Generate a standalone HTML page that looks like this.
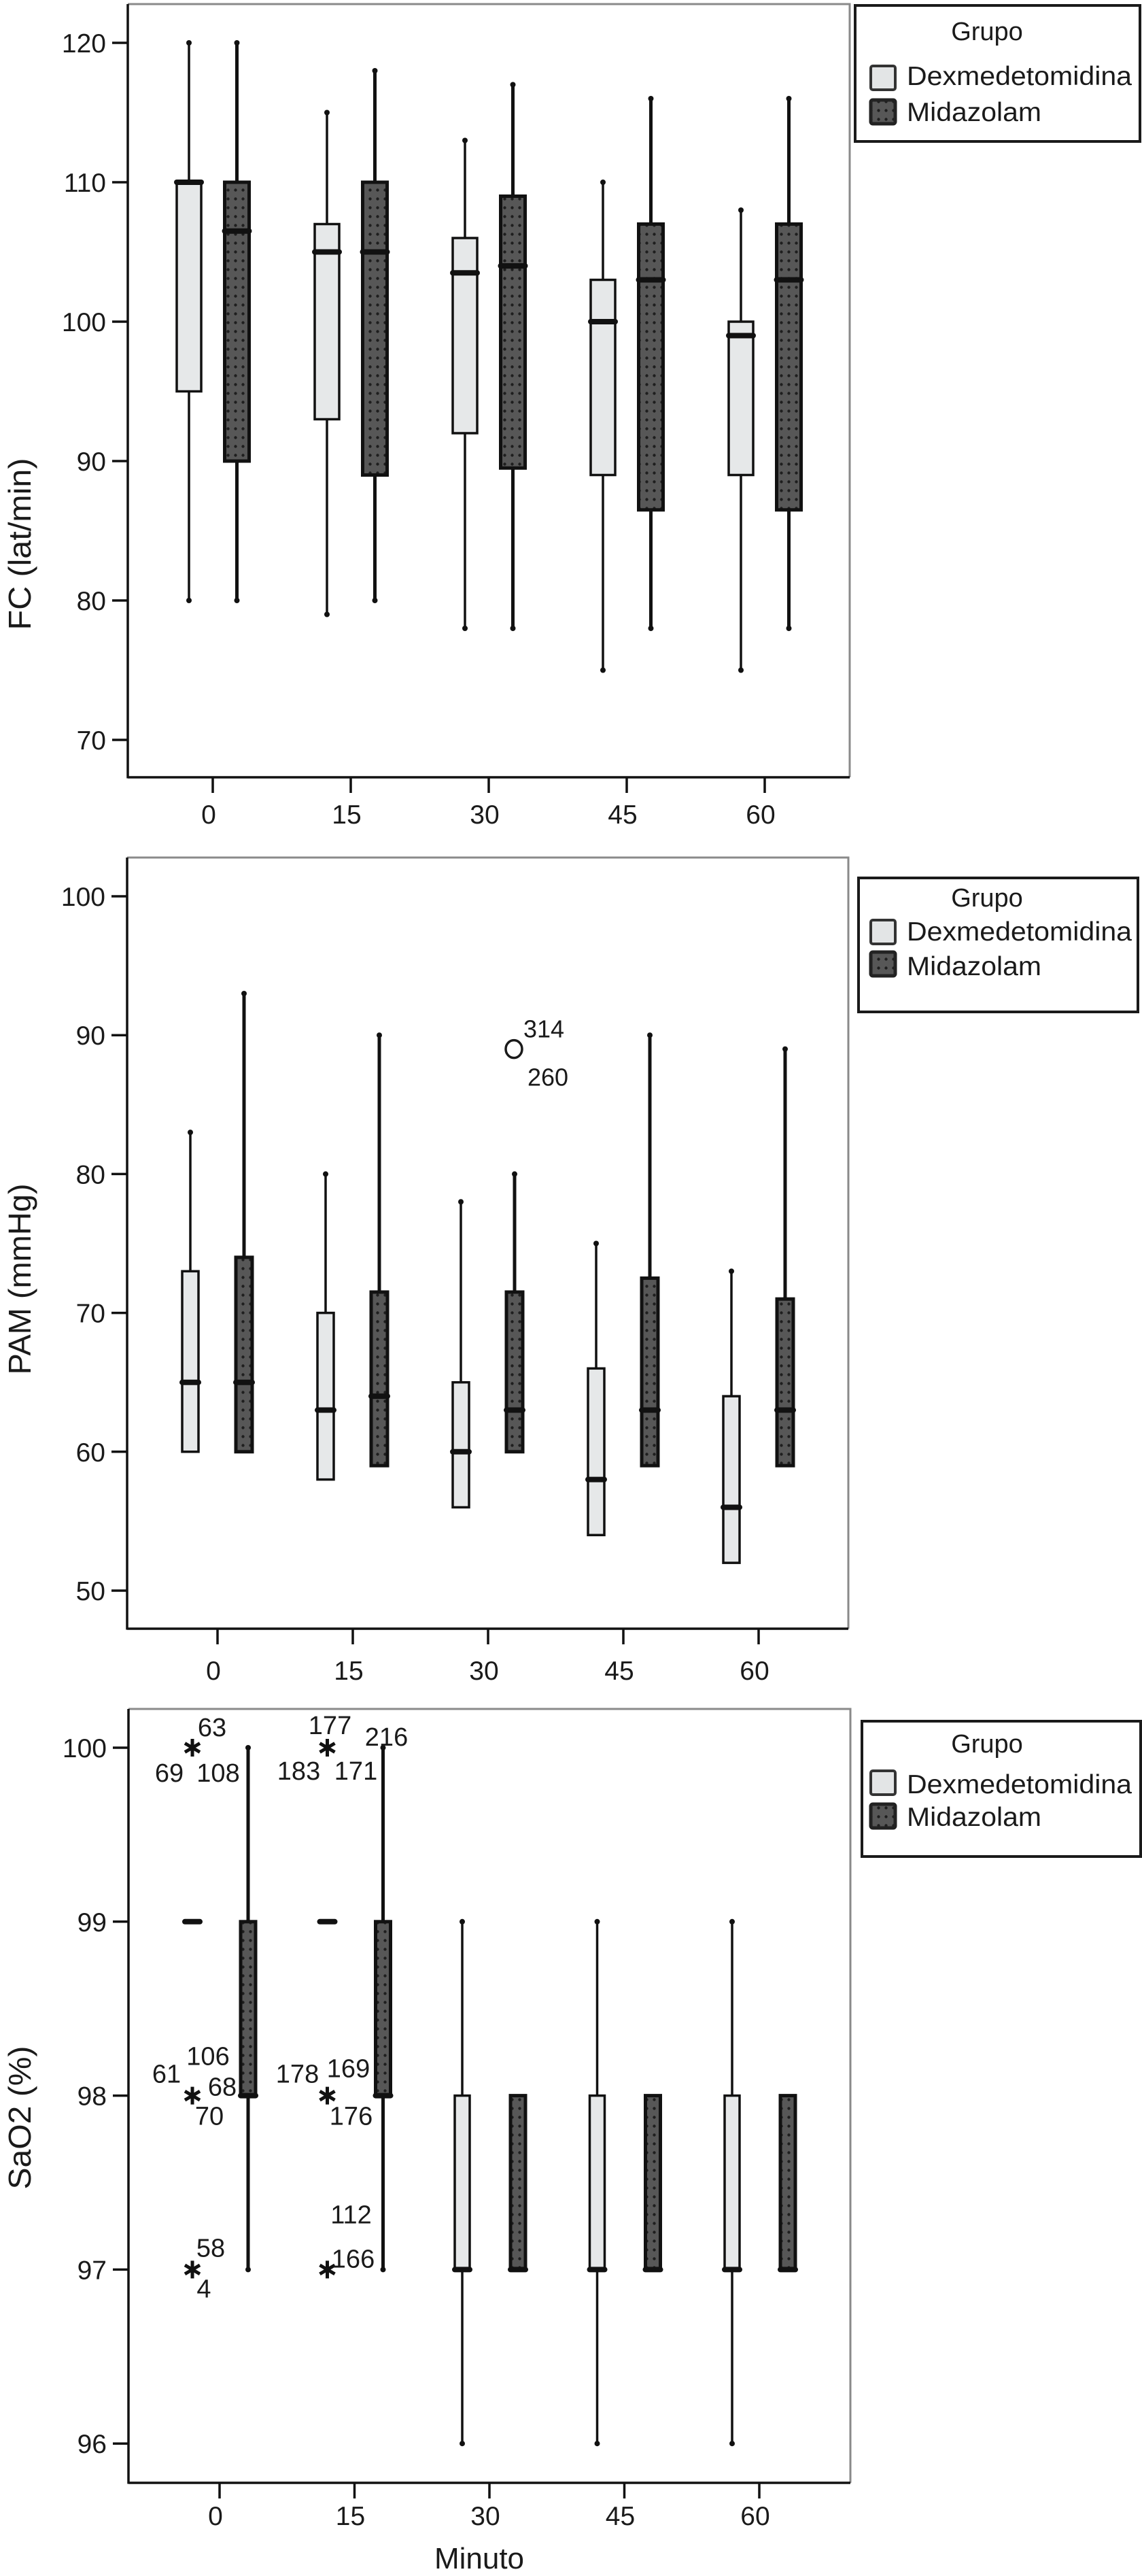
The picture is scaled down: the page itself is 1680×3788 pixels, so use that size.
<!DOCTYPE html>
<html><head><meta charset="utf-8">
<style>
html,body{margin:0;padding:0;background:#fff;}
svg{display:block;font-family:"Liberation Sans",Arial,sans-serif;}
</style></head>
<body>
<svg id="chart" width="1680" height="3788" viewBox="0 0 1680 3788" xmlns="http://www.w3.org/2000/svg">
<defs>
<pattern id="midpat" width="11" height="13" patternUnits="userSpaceOnUse">
<rect width="11" height="13" fill="#575757"/>
<circle cx="5.5" cy="6.5" r="2.2" fill="#1e1e1e"/>
</pattern>
</defs>
</svg>
<script>
// ---------- data ----------
const categories = ["0","15","30","45","60"];
// Panel 1: FC (lat/min) — [low, q1, median, q3, high]
const fcDex = [[80,95,110,110,120],[79,93,105,107,115],[78,92,103.5,106,113],[75,89,100,103,110],[75,89,99,100,108]];
const fcMid = [[80,90,106.5,110,120],[80,89,105,110,118],[78,89.5,104,109,117],[78,86.5,103,107,116],[78,86.5,103,107,116]];
const fcTicks = [70,80,90,100,110,120];
// Panel 2: PAM (mmHg)
const pamDex = [[60,60,65,73,83],[58,58,63,70,80],[56,56,60,65,78],[54,54,58,66,75],[52,52,56,64,73]];
const pamMid = [[60,60,65,74,93],[59,59,64,71.5,90],[60,60,63,71.5,80],[59,59,63,72.5,90],[59,59,63,71,89]];
const pamTicks = [50,60,70,80,90,100];
const pamOutliers = [{cat:2, series:"dex", value:89, labels:[["314",44,-30],["260",50,41]]}];
// Panel 3: SaO2 (%)
const saoDex = [[99,99,99,99,99],[99,99,99,99,99],[96,97,97,98,99],[96,97,97,98,99],[96,97,97,98,99]];
const saoMid = [[97,98,98,99,100],[97,98,98,99,100],[97,97,97,98,98],[97,97,97,98,98],[97,97,97,98,98]];
const saoTicks = [96,97,98,99,100];
const saoExtremes = [
 {cat:0, value:100, labels:[["63",29,-31],["69",-34,36],["108",38,36]]},
 {cat:1, value:100, labels:[["177",4,-34],["216",87,-17],["183",-42,33],["171",42,33]]},
 {cat:0, value:98, labels:[["106",23,-59],["61",-38,-33],["68",44,-14],["70",25,29]]},
 {cat:1, value:98, labels:[["178",-44,-33],["169",31,-41],["176",35,29]]},
 {cat:0, value:97, labels:[["58",27,-33],["4",17,27]]},
 {cat:1, value:97, labels:[["166",38,-17],["112",35,-82]]}
];

// ---------- layout ----------
const NS = "http://www.w3.org/2000/svg";
const svg = document.getElementById("chart");
function el(tag, attrs, parent, text){
  const e = document.createElementNS(NS, tag);
  for (const k in attrs) e.setAttribute(k, attrs[k]);
  if (text !== undefined) e.textContent = text;
  (parent || svg).appendChild(e);
  return e;
}

const panels = [
 {key:"fc", title:"FC (lat/min)", titleLen:253, dex:fcDex, mid:fcMid, ticks:fcTicks,
  left:188, right:1250, top:6, bottom:1143, y0:63, vTop:120, pxPerUnit:20.5,
  x0:313, dx:203, offD:-35, offM:35.5, bw:36, tickLabelY:1211, titleY:800,
  legend:{x:1258, y:8, w:419, h:200, g:59, d:125, m:178, sd:95, sm:145}},
 {key:"pam", title:"PAM (mmHg)", titleLen:281, dex:pamDex, mid:pamMid, ticks:pamTicks,
  left:187, right:1248, top:1261, bottom:2395, y0:1318, vTop:100, pxPerUnit:20.42,
  x0:320, dx:199, offD:-40, offM:39, bw:24, tickLabelY:2470, titleY:1881,
  legend:{x:1263, y:1291, w:411, h:197, g:1333, d:1383, m:1434, sd:1351, sm:1398}},
 {key:"sao", title:"SaO2 (%)", titleLen:211, dex:saoDex, mid:saoMid, ticks:saoTicks,
  left:189, right:1251, top:2513, bottom:3651, y0:2570, vTop:100, pxPerUnit:255.8,
  x0:323, dx:198.5, offD:-40, offM:42, bw:22, tickLabelY:3713, titleY:3114,
  legend:{x:1268, y:2531, w:410, h:199, g:2577, d:2637, m:2685, sd:2602, sm:2651}}
];

function drawBox(g, p, cx, d, isMid, name){
  const y = v => p.y0 + (p.vTop - v) * p.pxPerUnit;
  const bg = el("g", {}, g);
  
  
  const sw = isMid ? 5 : 3.5;
  if (d[4] > d[3]) { el("line",{x1:cx,x2:cx,y1:y(d[4]),y2:y(d[3]),stroke:"#111","stroke-width":sw},bg); el("circle",{cx:cx,cy:y(d[4]),r:4,fill:"#111"},bg); }
  if (d[0] < d[1]) { el("line",{x1:cx,x2:cx,y1:y(d[1]),y2:y(d[0]),stroke:"#111","stroke-width":sw},bg); el("circle",{cx:cx,cy:y(d[0]),r:4,fill:"#111"},bg); }
  const h = y(d[1]) - y(d[3]);
  if (h > 0) {
    el("rect",{x:cx-p.bw/2,y:y(d[3]),width:p.bw,height:h,fill:isMid?"url(#midpat)":"#e6e8e9",stroke:"#111","stroke-width":isMid?5:3.5},bg);
  }
  el("line",{x1:cx-p.bw/2,x2:cx+p.bw/2,y1:y(d[2]),y2:y(d[2]),stroke:"#111","stroke-width":8,"stroke-linecap":"round"},bg);
}

function star(g, cx, cy, name){
  const s = el("path",{d:`M${cx} ${cy-13}V${cy+13}M${cx-11} ${cy-6.5}L${cx+11} ${cy+6.5}M${cx-11} ${cy+6.5}L${cx+11} ${cy-6.5}`,stroke:"#111","stroke-width":5},g);
  
  
}

panels.forEach(p => {
  const g = el("g", {});
  
  
  const y = v => p.y0 + (p.vTop - v) * p.pxPerUnit;
  const xc = i => p.x0 + i * p.dx;
  const fr = el("path",{d:`M${p.left} ${p.top}H${p.right}V${p.bottom}`,fill:"none",stroke:"#8a8a8a","stroke-width":3},g);
  
  
  const yax = el("line",{x1:p.left,x2:p.left,y1:p.top,y2:p.bottom+1.5,stroke:"#111","stroke-width":3.5},g);
  
  
  const xax = el("line",{x1:p.left,x2:p.right,y1:p.bottom,y2:p.bottom,stroke:"#111","stroke-width":3.5},g);
  
  
  p.ticks.forEach(t => {
    el("line",{x1:p.left-23,x2:p.left,y1:y(t),y2:y(t),stroke:"#111","stroke-width":3.5},g);
    const tl = el("text",{x:p.left-32,y:y(t)+14,"font-size":39,"text-anchor":"end",fill:"#1a1a1a"},g,String(t));
    
    
  });
  categories.forEach((c,i) => {
    el("line",{x1:xc(i),x2:xc(i),y1:p.bottom,y2:p.bottom+23,stroke:"#111","stroke-width":3.5},g);
    const tl = el("text",{x:xc(i)-6,y:p.tickLabelY,"font-size":39,"text-anchor":"middle",fill:"#1a1a1a"},g,c);
    
    
  });
  const yt = el("text",{x:0,y:0,"font-size":46,"text-anchor":"middle",fill:"#1a1a1a",textLength:p.titleLen,lengthAdjust:"spacingAndGlyphs",transform:`translate(45 ${p.titleY}) rotate(-90)`},g,p.title);
  
  
  categories.forEach((c,i) => {
    drawBox(g, p, xc(i)+p.offD, p.dex[i], false, p.key + '-box-dex-' + c);
    drawBox(g, p, xc(i)+p.offM, p.mid[i], true, p.key + '-box-mid-' + c);
  });
  const L = p.legend;
  const lg = el("g", {}, g);
  
  
  el("rect",{x:L.x,y:L.y,width:L.w,height:L.h,fill:"#fff",stroke:"#1a1a1a","stroke-width":4},lg);
  const gt = el("text",{x:1452,y:L.g,"font-size":38,"text-anchor":"middle",fill:"#1a1a1a"},lg,"Grupo");
  
  
  const sw1 = el("rect",{x:1281,y:L.sd+2,width:36,height:35,fill:"#e3e5e6",stroke:"#333","stroke-width":4,rx:3},lg);
  
  
  const sw2 = el("rect",{x:1281,y:L.sm+2,width:36,height:35,fill:"url(#midpat)",stroke:"#222","stroke-width":5,rx:3},lg);
  
  
  const t1 = el("text",{x:1334,y:L.d,"font-size":39,fill:"#1a1a1a",textLength:331,lengthAdjust:"spacingAndGlyphs"},lg,"Dexmedetomidina");
  
  
  const t2 = el("text",{x:1334,y:L.m,"font-size":39,fill:"#1a1a1a",textLength:198,lengthAdjust:"spacingAndGlyphs"},lg,"Midazolam");
  
  

  if (p.key === "pam") {
    pamOutliers.forEach(o => {
      const cx = xc(o.cat) + (o.series === "dex" ? p.offD : p.offM) + 78;
      const cy = y(o.value);
      const oe = el("ellipse",{cx:cx,cy:cy,rx:12,ry:13,fill:"none",stroke:"#1a1a1a","stroke-width":3.5},g);
      
      
      o.labels.forEach(l => {
        const lt = el("text",{x:cx+l[1],y:cy+l[2]+13,"font-size":36,"text-anchor":"middle",fill:"#1a1a1a"},g,l[0]);
        
        
      });
    });
  }
  if (p.key === "sao") {
    saoExtremes.forEach(o => {
      const cx = xc(o.cat) + p.offD;
      const cy = y(o.value);
      star(g, cx, cy, 'extreme-marker');
      o.labels.forEach(l => {
        const lt = el("text",{x:cx+l[1],y:cy+l[2]+14,"font-size":38,"text-anchor":"middle",fill:"#1a1a1a"},g,l[0]);
        
        
      });
    });
    const xt = el("text",{x:705,y:3777,"font-size":44,"text-anchor":"middle",fill:"#1a1a1a"},g,"Minuto");
    
    
  }
});
</script>
</body></html>
